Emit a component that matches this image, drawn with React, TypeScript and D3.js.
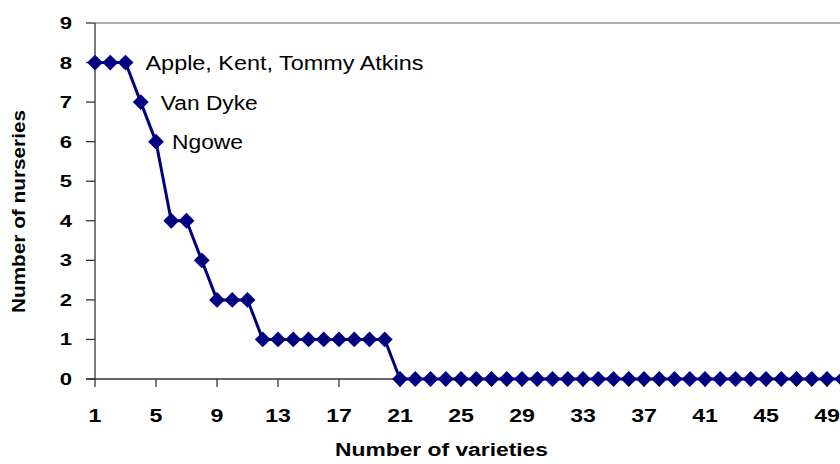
import React from "react";
import * as d3 from "d3";

const varieties: number[] = Array.from({ length: 50 }, (_, i) => i + 1);
const nurseries: number[] = [
  8, 8, 8, 7, 6, 4, 4, 3, 2, 2, 2, 1, 1, 1, 1, 1, 1, 1, 1, 1,
  0, 0, 0, 0, 0, 0, 0, 0, 0, 0, 0, 0, 0, 0, 0, 0, 0, 0, 0, 0,
  0, 0, 0, 0, 0, 0, 0, 0, 0, 0,
];
const xTicks: number[] = [1, 5, 9, 13, 17, 21, 25, 29, 33, 37, 41, 45, 49];
const yTicks: number[] = [0, 1, 2, 3, 4, 5, 6, 7, 8, 9];
const annotations: { x: number; y: number; text: string }[] = [
  { x: 3, y: 8, text: "Apple, Kent, Tommy Atkins" },
  { x: 4, y: 7, text: "Van Dyke" },
  { x: 5, y: 6, text: "Ngowe" },
];

export default function App() {
  const W = 840;
  const H = 464;
  const left = 95;
  const top = 23;
  const bottom = 379;
  const unit = 15.25;
  const x = d3.scaleLinear().domain([1, 50]).range([left, left + 49 * unit]);
  const y = d3.scaleLinear().domain([0, 9]).range([bottom, top]);
  const line = d3
    .line<number>()
    .x((_, i) => x(varieties[i]))
    .y((d) => y(d));
  const diamond = d3.symbol().type(d3.symbolDiamond2).size(160)();
  const font = "'Liberation Sans', Arial, sans-serif";
  const annDx = [20, 20, 16];
  const annLen = [278, 97, 71];

  return (
    <svg
      width={W}
      height={H}
      style={{ position: "absolute", left: 0, top: 0 }}
      fontFamily={font}
    >
      <rect x={0} y={0} width={W} height={H} fill="#fff" />
      <line x1={left} x2={W + 20} y1={y(9)} y2={y(9)} stroke="#999" strokeWidth={1.5} />
      <line x1={left} x2={left} y1={top} y2={bottom} stroke="#333" strokeWidth={1.3} />
      {yTicks.map((t) => (
        <g key={"y" + t}>
          <line x1={left - 9} x2={left} y1={y(t)} y2={y(t)} stroke="#333" strokeWidth={1.3} />
          <text
            transform={`translate(72,${y(t) + 6}) scale(1.3,1)`}
            textAnchor="end"
            fontSize={17}
            fontWeight="bold"
          >
            {t}
          </text>
        </g>
      ))}
      <line x1={left - 9} x2={W + 20} y1={bottom} y2={bottom} stroke="#333" strokeWidth={1.3} />
      {xTicks.map((t) => (
        <g key={"x" + t}>
          <line x1={x(t)} x2={x(t)} y1={bottom} y2={bottom + 8} stroke="#333" strokeWidth={1.3} />
          <text
            transform={`translate(${x(t)},422) scale(1.25,1)`}
            textAnchor="middle"
            fontSize={18.5}
            fontWeight="bold"
          >
            {t}
          </text>
        </g>
      ))}
      <path d={line(nurseries) || ""} fill="none" stroke="#000080" strokeWidth={3} />
      {nurseries.map((v, i) => (
        <path
          key={"m" + i}
          d={diamond || ""}
          transform={`translate(${x(varieties[i])},${y(v)})`}
          fill="#000080"
        />
      ))}
      {annotations.map((a, i) => (
        <text
          key={a.text}
          x={x(a.x) + annDx[i]}
          y={y(a.y) + 7.5}
          fontSize={20}
          textLength={annLen[i]}
          lengthAdjust="spacingAndGlyphs"
        >
          {a.text}
        </text>
      ))}
      <text
        x={335}
        y={456}
        fontSize={17.5}
        fontWeight="bold"
        textLength={213}
        lengthAdjust="spacingAndGlyphs"
      >
        Number of varieties
      </text>
      <text
        transform="translate(25,313) rotate(-90)"
        fontSize={18}
        fontWeight="bold"
        textLength={203}
        lengthAdjust="spacingAndGlyphs"
      >
        Number of nurseries
      </text>
    </svg>
  );
}
